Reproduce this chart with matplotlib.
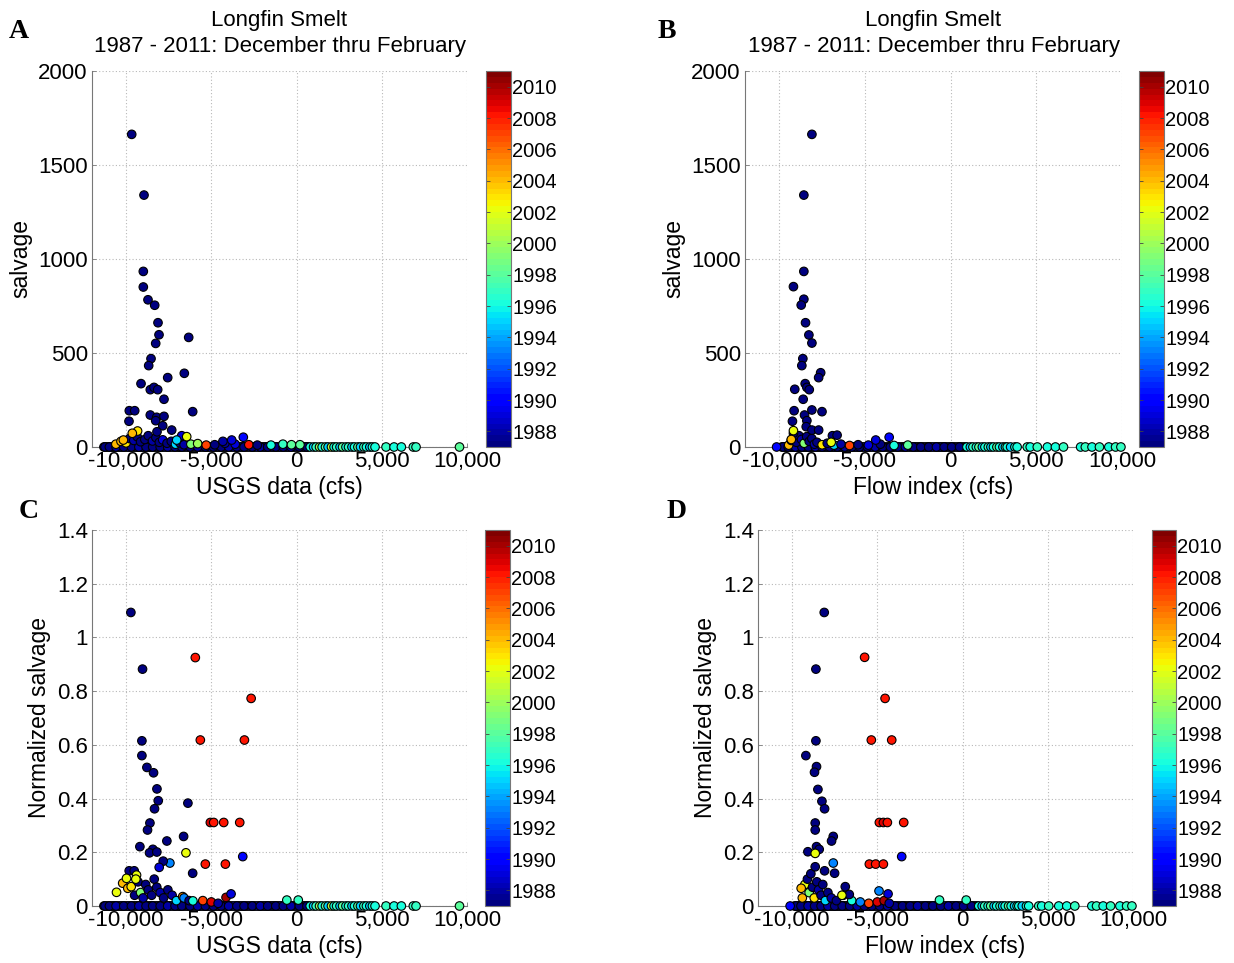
import matplotlib
matplotlib.use("Agg")
import matplotlib.pyplot as plt
import numpy as np
from matplotlib.ticker import FuncFormatter, FixedLocator
from matplotlib.colors import Normalize
from matplotlib.cm import ScalarMappable

plt.rcParams['font.family'] = ['Liberation Sans', 'DejaVu Sans']

# ---------------- data ----------------
title_text = "Longfin Smelt\n1987 - 2011: December thru February"
year_min, year_max = 1987, 2011
cbar_ticks = [1988, 1990, 1992, 1994, 1996, 1998, 2000, 2002, 2004, 2006, 2008, 2010]
x_ticks = [-10000, -5000, 0, 5000, 10000]
salv_ticks = [0, 500, 1000, 1500, 2000]
norm_ticks = [0, 0.2, 0.4, 0.6, 0.8, 1.0, 1.2, 1.4]

# zero-salvage observations, USGS flow (panels A, C)
usgs_zero_x = [-11300, -11050, -10800, -10650, -10400, -10200, -9950, -9750, -9500, -9300,
               -9100, -8900, -8650, -8500, -8250, -8050, -7850, -7600, -7450, -7200,
               -6950, -6800, -6550, -6300, -6100, -5850, -5650, -5400, -5200, -4950,
               -4700, -4500, -4250, -4050, -3800, -3550, -3350, -3150, -2900, -2650,
               -2450, -2200, -1950, -1750, -1500, -1300, -1050, -850, -600, -400,
               -150, 100, 350, 550,
               -11180, -10920, -10720, -10520, -10300, -10080, -9850, -9620, -9400, -9200,
               -9000, -8780, -8570, -8380, -8150, -7950, -7730, -7520, -7330, -7080,
               -6870, -6680, -6420, -6200, -5980, -5750, -5520, -5300, -5080, -4820,
               -4600, -4380, -4150, -3920, -3680, -3450, -3250, -3020, -2780, -2550,
               -2320, -2080, -1850, -1620, -1400, -1170, -950, -720, -500, -270,
               -30, 220, 450, 680,
               -11240, -10980, -10590, -10140, -9690, -9250, -8830, -8440, -8000, -7560,
               -7130, -6730, -6250, -5800, -5350, -4880, -4420, -3980, -3500, -3080,
               -2600, -2130, -1690, -1220, -780, -330, 160, 610,
               800, 1000, 1150, 1350, 1500, 1700, 1850, 2050, 2200, 2350, 2550,
               2700, 2900, 3050, 3250, 3400, 3600, 3750, 3950, 4100, 4300, 4450,
               4604, 5250, 5720, 6150, 6850, 7010, 9560]
usgs_zero_year = [1987, 1988, 1989, 1987, 1988, 2003, 1987, 1988, 1987, 1989,
                  1988, 1987, 1990, 1987, 1987, 1988, 1989, 1987, 1988, 1988,
                  1987, 1987, 1989, 1990, 1987, 1988, 1987, 1991, 1988, 1987,
                  2008, 1989, 1987, 1988, 1987, 1987, 1988, 1990, 2008, 1988,
                  1987, 1991, 1988, 1989, 1987, 1987, 1988, 1988, 1987, 1990,
                  1988, 1987, 1989, 1989,
                  1988, 1987, 1987, 1989, 1988, 1987, 1990, 1988, 1987, 1987,
                  1989, 1988, 1987, 1987, 1988, 1987, 1989, 1987, 1988, 1987,
                  1987, 1988, 1987, 1989, 1987, 1988, 1987, 1987, 1989, 1988,
                  1987, 1987, 1988, 1987, 1989, 1987, 1988, 1987, 1987, 1988,
                  1989, 1987, 1988, 1987, 1987, 1988, 1989, 1987, 1988, 1987,
                  1987, 1988, 1987, 1989,
                  1987, 1987, 1988, 1987, 1987, 1988, 1987, 1987, 1987, 1988,
                  1987, 1987, 1987, 1988, 1987, 1987, 1987, 1988, 1987, 1987,
                  1987, 1988, 1987, 1987, 1987, 1988, 1987, 1987,
                  1996, 1995, 1997, 2000, 1996, 1998, 1995, 2001, 1996, 1997, 1995,
                  1998, 1996, 1997, 1995, 1996, 1998, 1995, 1997, 1996, 1995, 1996,
                  1996, 1997, 1996, 1996, 1997, 1997, 1998]

# zero-salvage observations, flow index (panels B, D)
flow_zero_x = [-9850, -9700, -9550, -9400, -9250, -9100, -8950, -8800, -8600, -8450,
               -8250, -8100, -7900, -7700, -7500, -7300, -7100, -6900, -6700, -6500,
               -6300, -6050, -5850, -5600, -5400, -5150, -4900, -4700, -4450, -4200,
               -4000, -3750, -3500, -3300, -3050, -2800, -2600, -2350, -2100, -1900,
               -1650, -1400, -1200, -950, -700, -500, -250, 0, 250, 500, 750,
               -9620, -9320, -9170, -9020, -8870, -8700, -8520, -8350, -8180, -8000,
               -7800, -7600, -7400, -7200, -7000, -6800, -6600, -6400, -6170, -5950,
               -5720, -5500, -5270, -5030, -4800, -4580, -4320, -4100, -3870, -3630,
               -3400, -3180, -2920, -2700, -2470, -2230, -2000, -1780, -1530, -1300,
               -1080, -820, -600, -370, -120, 130, 380, 620, 870,
               -9780, -9480, -9060, -8680, -8300, -7900, -7500, -7060, -6620, -6180,
               -5760, -5320, -4860, -4400, -3960, -3520, -3080, -2640, -2180, -1740,
               -1280, -830, -380, 60, 520,
               950, 1150, 1300, 1500, 1650, 1850, 2000, 2200, 2350, 2500, 2700,
               2850, 3050, 3200, 3300, 3500, 3750,
               3880, 4470, 4645, 5057, 5645, 6115, 6586, 7586, 7861, 8249, 8684,
               9231, 9625, 9937]
flow_zero_year = [1987, 1988, 1989, 1987, 1988, 2003, 1987, 1988, 1987, 1989,
                  1988, 1987, 1990, 1987, 1987, 1988, 1989, 1987, 1988, 1988,
                  1987, 1987, 1989, 1990, 1987, 1988, 2008, 1991, 1988, 1987,
                  1987, 1989, 1987, 1988, 1987, 1987, 1988, 1990, 1987, 1988,
                  1987, 1991, 1988, 1989, 1987, 1987, 1988, 1988, 1987, 1990, 1988,
                  1988, 1987, 1987, 1989, 1988, 1987, 1990, 1988, 1987, 1987,
                  1989, 1988, 1987, 1987, 1988, 1987, 1989, 1987, 1988, 1987,
                  1987, 1988, 1987, 1989, 1987, 1988, 1987, 1987, 1989, 1988,
                  1987, 1987, 1988, 1987, 1989, 1987, 1988, 1987, 1987, 1988,
                  1989, 1987, 1988, 1987, 1987, 1988, 1989, 1987, 1988,
                  1987, 1987, 1988, 1987, 1987, 1988, 1987, 1987, 1987, 1988,
                  1987, 1987, 1987, 1988, 1987, 1987, 1987, 1988, 1987, 1987,
                  1987, 1988, 1987, 1987, 1987,
                  1996, 1995, 1997, 1996, 1998, 1995, 1996, 1997, 1995, 1996, 1998,
                  1996, 1995, 1997, 1996, 1995, 1996,
                  1996, 1997, 1996, 1997, 1996, 1996, 1997, 1996, 1997, 1996, 1997,
                  1996, 1997, 1997]

# Panel A: USGS flow vs salvage
a_x = [-9671, -8949, -8990, -8990, -8715, -8322, -8128, -8069, -8263, -6327,
       -8538, -8674, -6585, -7559, -9125, -8580, -8363, -8146, -7776, -9812,
       -9495, -6093, -8580, -8205, -7776, -9830, -8263, -7852, -7324, -8187,
       -6737, -3123, -6444, -9325, -9636, -10160, -7030, -3804, -4320]
a_y = [1663, 1340, 934, 851, 783, 754, 661, 597, 551, 583,
       470, 433, 392, 369, 337, 305, 317, 305, 254, 193,
       193, 188, 170, 158, 163, 137, 140, 113, 90, 81,
       60, 52, 55, 85, 73, 37, 37, 37, 30]
a_year = [1987, 1987, 1987, 1987, 1987, 1987, 1987, 1987, 1987, 1987,
          1987, 1987, 1987, 1987, 1987, 1987, 1987, 1987, 1987, 1987,
          1987, 1987, 1987, 1987, 1987, 1987, 1987, 1987, 1987, 1987,
          1989, 1990, 2002, 2003, 2004, 2004, 1995, 1989, 1988]
a_low_x = [-10600, -10300, -10000, -9800, -9550, -9350, -9150, -8900, -8700, -8450,
           -8250, -8050, -7850, -7600, -7350, -7100, -6850, -6600, -6200, -5800,
           -5300, -4800, -4200, -3600, -2800, -2300, -1500, -800, -300, 200]
a_low_y = [15, 30, 22, 45, 35, 55, 28, 40, 60, 32,
           50, 25, 38, 20, 30, 15, 22, 12, 15, 18,
           10, 12, 20, 15, 12, 10, 10, 15, 12, 12]
a_low_year = [2004, 2004, 2003, 1987, 1988, 1987, 1987, 1987, 1987, 1988,
              1987, 1987, 1989, 1987, 1987, 1995, 1987, 1988, 1999, 2000,
              2007, 1987, 1988, 1989, 2008, 1987, 1996, 1997, 1998, 1998]

# Panel B: flow index vs salvage
b_x = [-8096, -8566, -8566, -9173, -8566, -8720, -8467, -8272, -8096, -8625,
       -8684, -7585, -7703, -9096, -8488, -8390, -8250, -8605, -9134, -8096,
       -7507, -8526, -9232, -8390, -8427, -8096, -9173, -7703, -6898, -6626,
       -3587, -4370, -10155, -9173, -6972, -9300]
b_y = [1663, 1340, 934, 853, 786, 755, 661, 596, 553, 470,
       433, 395, 369, 307, 337, 317, 305, 254, 193, 197,
       188, 170, 137, 140, 108, 90, 73, 90, 60, 63,
       52, 37, 0, 87, 25, 40]
b_year = [1987, 1987, 1987, 1987, 1987, 1987, 1987, 1987, 1987, 1987,
          1987, 1987, 1987, 1987, 1987, 1987, 1987, 1987, 1987, 1987,
          1987, 1987, 1987, 1987, 1987, 1987, 1987, 1987, 1987, 1987,
          1990, 1989, 1990, 2002, 2002, 2004]
b_low_x = [-9450, -9300, -9150, -9000, -8850, -8700, -8550, -8400, -8250, -8100,
           -7950, -7800, -7500, -7200, -6800, -6400, -5900, -5400, -4800, -4100,
           -3300, -2500]
b_low_y = [10, 35, 50, 25, 60, 40, 20, 55, 30, 45,
           15, 25, 12, 20, 10, 15, 8, 12, 10, 15,
           8, 10]
b_low_year = [2004, 1987, 2002, 1987, 1987, 1988, 1999, 1987, 1987, 1987,
              1988, 1987, 2003, 1987, 1995, 1988, 2007, 1987, 1989, 1987,
              1996, 1998]

# Panel C: USGS flow vs normalized salvage
c_x = [-9720, -9036, -5939, -2664, -9073, -5645, -3058, -9073, -8779, -8390,
       -8190, -8114, -8332, -6374, -8602, -8743, -5057, -4861, -4273, -3333,
       -6626, -7608, -9191, -8428, -8625, -8196, -6488, -3156, -5351, -4175,
       -7431, -7823, -8058, -6094, -9818, -9524, -9975, -9387, -10562, -9428,
       -570, 100, -4136, -3842]
c_y = [1.093, 0.882, 0.925, 0.773, 0.615, 0.618, 0.618, 0.560, 0.516, 0.496,
       0.436, 0.392, 0.362, 0.383, 0.309, 0.283, 0.311, 0.311, 0.311, 0.311,
       0.259, 0.242, 0.221, 0.211, 0.198, 0.201, 0.198, 0.184, 0.156, 0.156,
       0.160, 0.167, 0.144, 0.122, 0.131, 0.131, 0.103, 0.115, 0.051, 0.100,
       0.022, 0.022, 0.032, 0.045]
c_year = [1987, 1987, 2008, 2008, 1987, 2008, 2008, 1987, 1987, 1987,
          1987, 1987, 1987, 1987, 1987, 1987, 2009, 2008, 2008, 2008,
          1987, 1987, 1987, 1987, 1987, 1987, 2002, 1990, 2008, 2008,
          1993, 1987, 1989, 1987, 1987, 1987, 2002, 2002, 2002, 2002,
          1997, 1997, 2010, 1989]
c_low_x = [-10200, -9900, -9700, -9500, -9300, -9150, -9000, -8850, -8700, -8500,
           -8350, -8200, -8000, -7800, -7550, -7300, -7050, -6680, -6600, -6300,
           -6080, -5500, -5000, -4600]
c_low_y = [0.085, 0.066, 0.072, 0.040, 0.090, 0.050, 0.030, 0.080, 0.060, 0.040,
           0.100, 0.070, 0.050, 0.030, 0.060, 0.040, 0.020, 0.035, 0.030, 0.020,
           0.019, 0.020, 0.015, 0.010]
c_low_year = [2004, 2004, 2003, 1987, 1987, 1999, 1988, 1987, 1987, 1987,
              1987, 1987, 1988, 1987, 1987, 1988, 1995, 2005, 1993, 1987,
              1996, 2007, 2009, 1988]

# Panel D: flow index vs normalized salvage
d_x = [-8114, -5745, -8603, -4545, -8603, -5351, -4155, -9191, -8567, -8685,
       -8485, -8250, -8094, -7585, -7685, -8644, -8644, -4880, -4645, -4410,
       -3451, -9073, -8567, -8410, -8644, -7585, -3569, -5468, -5098, -4645,
       -8094, -7507, -8644, -6880, -6645, -4900, -4370, -7075, -9467, -10115,
       -1352, 216]
d_y = [1.093, 0.926, 0.882, 0.773, 0.615, 0.618, 0.618, 0.560, 0.519, 0.498,
       0.434, 0.390, 0.362, 0.259, 0.242, 0.309, 0.283, 0.311, 0.311, 0.311,
       0.311, 0.202, 0.221, 0.211, 0.196, 0.160, 0.184, 0.156, 0.156, 0.156,
       0.131, 0.122, 0.146, 0.072, 0.043, 0.056, 0.045, 0.040, 0.066, 0.0,
       0.022, 0.022]
d_year = [1987, 2008, 1987, 2008, 1987, 2008, 2008, 1987, 1987, 1987,
          1987, 1987, 1987, 1987, 1987, 1987, 1987, 2008, 2009, 2008,
          2008, 1987, 1987, 1987, 2002, 1993, 1990, 2008, 2008, 2008,
          1987, 1987, 1987, 1987, 1987, 1993, 1989, 2002, 2004, 1990,
          1997, 1997]
d_low_x = [-9400, -9250, -9100, -9000, -8900, -8800, -8700, -8550, -8450, -8300,
           -8200, -8050, -7900, -7700, -7400, -7000, -6500, -6000, -5500, -5000,
           -4600, -4300]
d_low_y = [0.030, 0.080, 0.100, 0.050, 0.120, 0.070, 0.030, 0.090, 0.060, 0.040,
           0.080, 0.020, 0.050, 0.030, 0.020, 0.040, 0.020, 0.015, 0.010, 0.015,
           0.020, 0.010]
d_low_year = [2004, 2002, 1987, 1999, 1987, 1987, 2003, 1987, 1988, 1987,
              1987, 1995, 1987, 1988, 1987, 1987, 1996, 1993, 2007, 2009,
              2010, 1988]

# ---------------- figure ----------------
W, H = 1234, 963
fig = plt.figure(figsize=(W / 100, H / 100), dpi=100)
cmap = plt.get_cmap('jet', 64)
norm = Normalize(vmin=year_min, vmax=year_max)


def fbox(l, t, r, b):
    return [l / W, 1 - b / H, (r - l) / W, (b - t) / H]


MS = 38
EW = 0.8
TICK_FS = 16
LAB_FS = 16.5


def comma_fmt(v, pos):
    return f"{int(round(v)):,}"


def panel(ax_box, cb_box, zx, zyear, lx, ly, lyear, ox, oy, oyear,
          yticks, ylim, ylabel, xlabel, title, norm_axis):
    ax = fig.add_axes(fbox(*ax_box))
    ax.scatter(zx, np.zeros(len(zx)), c=zyear, cmap=cmap, norm=norm, s=MS,
               edgecolors='black', linewidths=EW, zorder=3, clip_on=False)
    ax.scatter(lx, ly, c=lyear, cmap=cmap, norm=norm, s=MS,
               edgecolors='black', linewidths=EW, zorder=4, clip_on=False)
    ax.scatter(ox, oy, c=oyear, cmap=cmap, norm=norm, s=MS,
               edgecolors='black', linewidths=EW, zorder=5, clip_on=False)
    ax.set_xlim(-12000, 10000)
    ax.set_ylim(*ylim)
    ax.xaxis.set_major_locator(FixedLocator(x_ticks))
    ax.xaxis.set_major_formatter(FuncFormatter(comma_fmt))
    ax.yaxis.set_major_locator(FixedLocator(yticks))
    if norm_axis:
        ax.yaxis.set_major_formatter(FuncFormatter(lambda v, p: f"{v:g}"))
    else:
        ax.yaxis.set_major_formatter(FuncFormatter(lambda v, p: f"{int(v)}"))
    ax.grid(True, linestyle=(0, (1, 2)), color='#b8b8b8', linewidth=0.8)
    ax.set_axisbelow(True)
    for s in ['top', 'right']:
        ax.spines[s].set_visible(False)
    for s in ['left', 'bottom']:
        ax.spines[s].set_color('#777777')
        ax.spines[s].set_linewidth(0.8)
    ax.tick_params(direction='in', length=3, width=0.6, color='#777777',
                   labelsize=TICK_FS, pad=3)
    ax.set_ylabel(ylabel, fontsize=LAB_FS, labelpad=4)
    ax.set_xlabel(xlabel, fontsize=LAB_FS, labelpad=3)
    if title:
        ax.set_title(title, fontsize=16, pad=14, linespacing=1.3)

    cax = fig.add_axes(fbox(*cb_box))
    sm = ScalarMappable(norm=norm, cmap=cmap)
    cb = fig.colorbar(sm, cax=cax, ticks=cbar_ticks)
    cb.outline.set_edgecolor('#777777')
    cb.outline.set_linewidth(0.8)
    cax.tick_params(direction='in', length=3, width=0.6, color='#444444',
                    left=True, right=True, labelsize=14.5, pad=1)
    return ax


panel((92, 71, 467, 447), (486, 71, 511, 447), usgs_zero_x, usgs_zero_year,
      a_low_x, a_low_y, a_low_year, a_x, a_y, a_year,
      salv_ticks, (0, 2000), 'salvage', 'USGS data (cfs)', title_text, False)
panel((745, 71, 1122, 447), (1139, 71, 1164, 447), flow_zero_x, flow_zero_year,
      b_low_x, b_low_y, b_low_year, b_x, b_y, b_year,
      salv_ticks, (0, 2000), 'salvage', 'Flow index (cfs)', title_text, False)
panel((92, 530, 467, 906), (485, 530, 510, 906), usgs_zero_x, usgs_zero_year,
      c_low_x, c_low_y, c_low_year, c_x, c_y, c_year,
      norm_ticks, (0, 1.4), 'Normalized salvage', 'USGS data (cfs)', None, True)
panel((758, 530, 1133, 906), (1152, 530, 1176, 906), flow_zero_x, flow_zero_year,
      d_low_x, d_low_y, d_low_year, d_x, d_y, d_year,
      norm_ticks, (0, 1.4), 'Normalized salvage', 'Flow index (cfs)', None, True)

for letter, px, py in [('A', 19, 32), ('B', 667, 32), ('C', 29, 512), ('D', 677, 512)]:
    fig.text(px / W, 1 - py / H, letter, fontsize=20, fontweight='bold',
             family='Liberation Serif', ha='center', va='center')

fig.savefig('out.png', dpi=100)
